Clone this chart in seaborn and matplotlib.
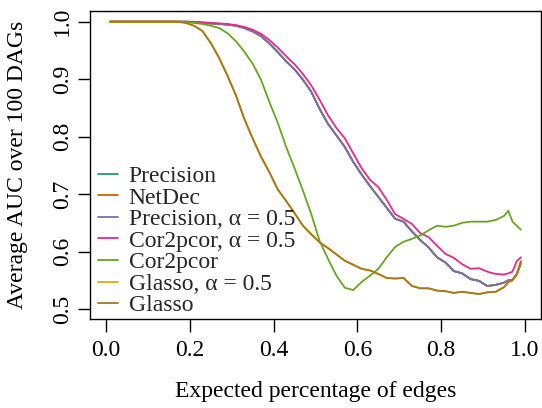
import matplotlib
matplotlib.use("Agg")
import matplotlib.pyplot as plt
import seaborn as sns
import pandas as pd

# ---- data ----
x_vals = [0.01, 0.03, 0.05, 0.07, 0.09, 0.11, 0.13, 0.15, 0.17, 0.19,
          0.21, 0.23, 0.25, 0.27, 0.29, 0.31, 0.33, 0.35, 0.37, 0.39,
          0.41, 0.43, 0.45, 0.47, 0.49, 0.51, 0.53, 0.55, 0.57, 0.59,
          0.61, 0.63, 0.65, 0.67, 0.69, 0.71, 0.73, 0.75, 0.77, 0.79,
          0.81, 0.83, 0.85, 0.87, 0.89, 0.91, 0.93, 0.95, 0.96, 0.97,
          0.98, 0.99]

precision = [1.0, 1.0, 1.0, 1.0, 1.0, 1.0, 1.0, 1.0, 1.0, 1.0,
             0.999, 0.998, 0.997, 0.996, 0.995, 0.993, 0.989, 0.983, 0.975, 0.962,
             0.947, 0.931, 0.917, 0.899, 0.878, 0.848, 0.822, 0.802, 0.782, 0.756,
             0.734, 0.714, 0.695, 0.676, 0.657, 0.652, 0.635, 0.620, 0.607, 0.590,
             0.581, 0.566, 0.562, 0.552, 0.549, 0.540, 0.542, 0.546, 0.550, 0.551,
             0.560, 0.580]
netdec = list(precision)
precision_a05 = list(precision)

cor2pcor_a05 = [1.0, 1.0, 1.0, 1.0, 1.0, 1.0, 1.0, 1.0, 1.0, 1.0,
                1.0, 0.999, 0.998, 0.997, 0.996, 0.994, 0.991, 0.986, 0.979, 0.968,
                0.955, 0.940, 0.926, 0.909, 0.889, 0.864, 0.837, 0.815, 0.797, 0.771,
                0.745, 0.725, 0.712, 0.690, 0.665, 0.657, 0.648, 0.632, 0.625, 0.610,
                0.596, 0.589, 0.578, 0.570, 0.571, 0.565, 0.561, 0.560, 0.562, 0.565,
                0.583, 0.590]

cor2pcor = [1.0, 1.0, 1.0, 1.0, 1.0, 1.0, 1.0, 1.0, 1.0, 0.999,
            0.998, 0.996, 0.993, 0.989, 0.980, 0.966, 0.948, 0.927, 0.899, 0.860,
            0.824, 0.782, 0.745, 0.706, 0.665, 0.618, 0.587, 0.558, 0.537, 0.533,
            0.547, 0.558, 0.570, 0.590, 0.608, 0.617, 0.622, 0.628, 0.637, 0.645,
            0.643, 0.645, 0.650, 0.652, 0.652, 0.652, 0.655, 0.662, 0.671, 0.652,
            0.645, 0.638]

glasso = [1.0, 1.0, 1.0, 1.0, 1.0, 1.0, 1.0, 1.0, 1.0, 0.998,
          0.993, 0.984, 0.963, 0.937, 0.906, 0.872, 0.831, 0.797, 0.765, 0.738,
          0.708, 0.688, 0.667, 0.645, 0.630, 0.616, 0.606, 0.595, 0.584, 0.577,
          0.570, 0.567, 0.561, 0.554, 0.553, 0.554, 0.540, 0.536, 0.536, 0.532,
          0.531, 0.528, 0.530, 0.528, 0.526, 0.529, 0.530, 0.538, 0.547, 0.550,
          0.560, 0.583]
glasso_a05 = list(glasso)

methods = ["Precision", "NetDec", "Precision, \u03b1 = 0.5",
           "Cor2pcor, \u03b1 = 0.5", "Cor2pcor", "Glasso, \u03b1 = 0.5", "Glasso"]
series = [precision, netdec, precision_a05, cor2pcor_a05, cor2pcor,
          glasso_a05, glasso]
colors = ["#1B9E77", "#D95F02", "#7570B3", "#E7298A", "#66A61E",
          "#E6AB02", "#A6761D"]

x_ticks = [0.0, 0.2, 0.4, 0.6, 0.8, 1.0]
y_ticks = [0.5, 0.6, 0.7, 0.8, 0.9, 1.0]

rows = []
for m, vals in zip(methods, series):
    for xv, yv in zip(x_vals, vals):
        rows.append({"x": xv, "auc": yv, "method": m})
df = pd.DataFrame(rows)

# ---- style ----
sns.set_theme(style="white")
plt.rcParams["font.family"] = ["Liberation Serif", "DejaVu Serif"]
FS = 17

fig = plt.figure(figsize=(5.42, 4.08), dpi=100)
ax = fig.add_axes([90 / 542, 1 - 319 / 408, 451 / 542, 308 / 408])

sns.lineplot(data=df, x="x", y="auc", hue="method", hue_order=methods,
             palette=colors, estimator=None, sort=False, linewidth=1.3,
             ax=ax, legend=True)

ax.set_xlim(-0.038, 1.038)
ax.set_ylim(0.4826, 1.0186)
ax.set_xticks(x_ticks)
ax.set_xticklabels([f"{v:.1f}" for v in x_ticks], fontsize=FS)
ax.set_yticks(y_ticks)
ax.set_yticklabels([f"{v:.1f}" for v in y_ticks], fontsize=FS,
                   rotation=90, va="center")
ax.tick_params(axis="both", which="major", direction="out", length=9,
               width=1.0, color="black", labelcolor="black", left=True,
               bottom=True)
ax.tick_params(axis="x", pad=6)
ax.tick_params(axis="y", pad=3)

for sp in ax.spines.values():
    sp.set_visible(True)
    sp.set_color("black")
    sp.set_linewidth(1.0)

ax.set_xlabel("Expected percentage of edges", fontsize=FS, color="black")
ax.set_ylabel("Average AUC over 100 DAGs", fontsize=FS, color="black")
ax.xaxis.label.set_va("center")
ax.xaxis.set_label_coords(0.5, (319 - 392) / 308)
ax.yaxis.label.set_va("center")
ax.yaxis.set_label_coords((18 - 90) / 451, 0.5)

leg = ax.legend(loc="center left", bbox_to_anchor=(8 / 451, (319 - 241) / 308),
                frameon=False, fontsize=FS, handlelength=0.85,
                handletextpad=0.45, labelspacing=0.0, borderpad=0,
                borderaxespad=0)
for line in leg.get_lines():
    line.set_linewidth(1.3)

fig.savefig("out.png", dpi=100)
